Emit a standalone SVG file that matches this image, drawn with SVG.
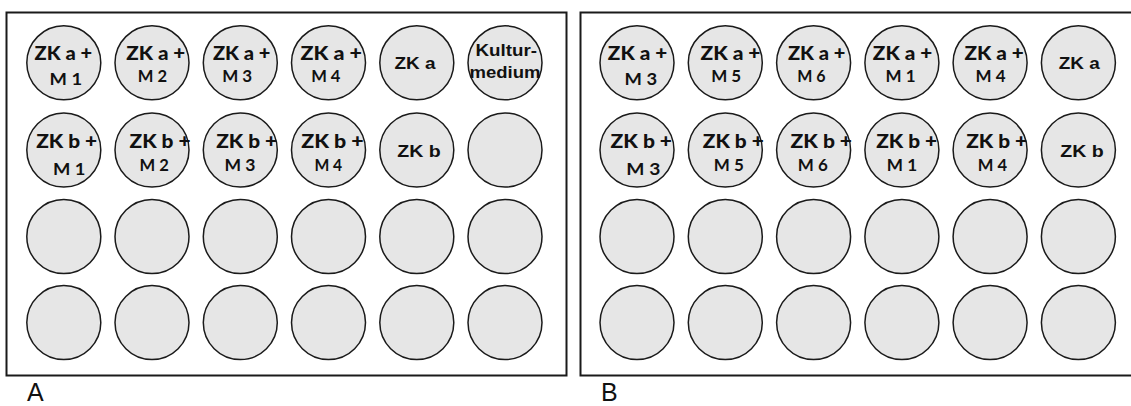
<svg xmlns="http://www.w3.org/2000/svg" width="1131" height="406" viewBox="0 0 1131 406">
<style>
.frame{fill:#ffffff;stroke:#1a1a1a;stroke-width:2}
.well{fill:#e6e6e6;stroke:#1a1a1a;stroke-width:1.5}
.t{font-family:Lato,"Liberation Sans",sans-serif;font-weight:900;font-size:18.5px;fill:#111;text-anchor:middle}
.m{font-family:Lato,"Liberation Sans",sans-serif;font-weight:bold;font-size:17px;fill:#111;text-anchor:middle}
.s{font-family:"Liberation Sans",Arial,sans-serif;font-weight:bold;font-size:17px;fill:#111;text-anchor:middle}
.k{font-family:"Liberation Sans",Arial,sans-serif;font-weight:bold;font-size:16.5px;fill:#111;text-anchor:middle}
.lab{font-family:"Liberation Sans",Arial,sans-serif;font-size:25px;fill:#111}
</style>
<rect id="plateA" class="frame" x="6.5" y="12.5" width="560" height="363"/>
<rect id="plateB" class="frame" x="580.5" y="12.5" width="560" height="363"/>
<text class="lab" x="27" y="401">A</text>
<text class="lab" x="601" y="401">B</text>

<g id="A_r1c1"><circle class="well" cx="63.8" cy="62.8" r="37"/><text class="t" x="63.3" y="60" textLength="57.5" lengthAdjust="spacingAndGlyphs">ZK a +</text><text class="m" x="65.8" y="85" textLength="32.5" lengthAdjust="spacingAndGlyphs">M 1</text></g>
<g id="A_r1c2"><circle class="well" cx="152" cy="62.8" r="37"/><text class="t" x="155.8" y="60" textLength="59" lengthAdjust="spacingAndGlyphs">ZK a +</text><text class="m" x="152.5" y="81.7" textLength="29.3" lengthAdjust="spacingAndGlyphs">M 2</text></g>
<g id="A_r1c3"><circle class="well" cx="240.3" cy="62.8" r="37"/><text class="t" x="241.7" y="60" textLength="57.5" lengthAdjust="spacingAndGlyphs">ZK a +</text><text class="m" x="237.2" y="82.3" textLength="30" lengthAdjust="spacingAndGlyphs">M 3</text></g>
<g id="A_r1c4"><circle class="well" cx="328.5" cy="62.8" r="37"/><text class="t" x="331.2" y="60" textLength="61.5" lengthAdjust="spacingAndGlyphs">ZK a +</text><text class="m" x="325.8" y="82.3" textLength="29.3" lengthAdjust="spacingAndGlyphs">M 4</text></g>
<g id="A_r1c5"><circle class="well" cx="416.8" cy="62.8" r="37"/><text class="s" x="415" y="69.3" textLength="41" lengthAdjust="spacingAndGlyphs">ZK a</text></g>
<g id="A_r1c6"><circle class="well" cx="505" cy="62.8" r="37"/><text class="k" x="506.3" y="56" textLength="61.5" lengthAdjust="spacingAndGlyphs">Kultur-</text><text class="k" x="505" y="78.3" textLength="71" lengthAdjust="spacingAndGlyphs">medium</text></g>

<g id="A_r2c1"><circle class="well" cx="63.8" cy="150" r="37"/><text class="t" x="66.7" y="147.7" textLength="61" lengthAdjust="spacingAndGlyphs">ZK b +</text><text class="m" x="69.2" y="175" textLength="32.5" lengthAdjust="spacingAndGlyphs">M 1</text></g>
<g id="A_r2c2"><circle class="well" cx="152" cy="150" r="37"/><text class="t" x="160" y="147.7" textLength="61" lengthAdjust="spacingAndGlyphs">ZK b +</text><text class="m" x="154.2" y="170.7" textLength="29.3" lengthAdjust="spacingAndGlyphs">M 2</text></g>
<g id="A_r2c3"><circle class="well" cx="240.3" cy="150" r="37"/><text class="t" x="246.7" y="147.7" textLength="61" lengthAdjust="spacingAndGlyphs">ZK b +</text><text class="m" x="240" y="170.7" textLength="31" lengthAdjust="spacingAndGlyphs">M 3</text></g>
<g id="A_r2c4"><circle class="well" cx="328.5" cy="150" r="37"/><text class="t" x="332.5" y="147.7" textLength="62.5" lengthAdjust="spacingAndGlyphs">ZK b +</text><text class="m" x="328.3" y="170.7" textLength="27.7" lengthAdjust="spacingAndGlyphs">M 4</text></g>
<g id="A_r2c5"><circle class="well" cx="416.8" cy="150" r="37"/><text class="s" x="419" y="157" textLength="43.5" lengthAdjust="spacingAndGlyphs">ZK b</text></g>
<g id="A_r2c6"><circle class="well" cx="505" cy="150" r="37"/></g>

<g id="A_r3c1"><circle class="well" cx="63.8" cy="236.5" r="37"/></g>
<g id="A_r3c2"><circle class="well" cx="152" cy="236.5" r="37"/></g>
<g id="A_r3c3"><circle class="well" cx="240.3" cy="236.5" r="37"/></g>
<g id="A_r3c4"><circle class="well" cx="328.5" cy="236.5" r="37"/></g>
<g id="A_r3c5"><circle class="well" cx="416.8" cy="236.5" r="37"/></g>
<g id="A_r3c6"><circle class="well" cx="505" cy="236.5" r="37"/></g>

<g id="A_r4c1"><circle class="well" cx="63.8" cy="322.6" r="37"/></g>
<g id="A_r4c2"><circle class="well" cx="152" cy="322.6" r="37"/></g>
<g id="A_r4c3"><circle class="well" cx="240.3" cy="322.6" r="37"/></g>
<g id="A_r4c4"><circle class="well" cx="328.5" cy="322.6" r="37"/></g>
<g id="A_r4c5"><circle class="well" cx="416.8" cy="322.6" r="37"/></g>
<g id="A_r4c6"><circle class="well" cx="505" cy="322.6" r="37"/></g>

<g id="B_r1c1"><circle class="well" cx="637" cy="62.8" r="37"/><text class="t" x="637.5" y="59.5" textLength="59.3" lengthAdjust="spacingAndGlyphs">ZK a +</text><text class="m" x="640.8" y="85" textLength="32.5" lengthAdjust="spacingAndGlyphs">M 3</text></g>
<g id="B_r1c2"><circle class="well" cx="725.3" cy="62.8" r="37"/><text class="t" x="730.5" y="59.5" textLength="60" lengthAdjust="spacingAndGlyphs">ZK a +</text><text class="m" x="726.2" y="81.7" textLength="30" lengthAdjust="spacingAndGlyphs">M 5</text></g>
<g id="B_r1c3"><circle class="well" cx="813.6" cy="62.8" r="37"/><text class="t" x="816.7" y="59.5" textLength="57.5" lengthAdjust="spacingAndGlyphs">ZK a +</text><text class="m" x="811.3" y="81.7" textLength="28.3" lengthAdjust="spacingAndGlyphs">M 6</text></g>
<g id="B_r1c4"><circle class="well" cx="901.9" cy="62.8" r="37"/><text class="t" x="902.5" y="59.5" textLength="59.3" lengthAdjust="spacingAndGlyphs">ZK a +</text><text class="m" x="900.5" y="81.7" textLength="30" lengthAdjust="spacingAndGlyphs">M 1</text></g>
<g id="B_r1c5"><circle class="well" cx="990.1" cy="62.8" r="37"/><text class="t" x="994.2" y="59.5" textLength="59.3" lengthAdjust="spacingAndGlyphs">ZK a +</text><text class="m" x="990.5" y="81.7" textLength="30" lengthAdjust="spacingAndGlyphs">M 4</text></g>
<g id="B_r1c6"><circle class="well" cx="1078.4" cy="62.8" r="37"/><text class="s" x="1079.3" y="69.3" textLength="41" lengthAdjust="spacingAndGlyphs">ZK a</text></g>

<g id="B_r2c1"><circle class="well" cx="637" cy="150" r="37"/><text class="t" x="641.3" y="147.7" textLength="61.5" lengthAdjust="spacingAndGlyphs">ZK b +</text><text class="m" x="643.3" y="175" textLength="34" lengthAdjust="spacingAndGlyphs">M 3</text></g>
<g id="B_r2c2"><circle class="well" cx="725.3" cy="150" r="37"/><text class="t" x="733.3" y="147.7" textLength="61" lengthAdjust="spacingAndGlyphs">ZK b +</text><text class="m" x="728.8" y="170.7" textLength="30" lengthAdjust="spacingAndGlyphs">M 5</text></g>
<g id="B_r2c3"><circle class="well" cx="813.6" cy="150" r="37"/><text class="t" x="821.3" y="147.7" textLength="61.5" lengthAdjust="spacingAndGlyphs">ZK b +</text><text class="m" x="812.8" y="170.7" textLength="30" lengthAdjust="spacingAndGlyphs">M 6</text></g>
<g id="B_r2c4"><circle class="well" cx="901.9" cy="150" r="37"/><text class="t" x="906.7" y="147.7" textLength="61" lengthAdjust="spacingAndGlyphs">ZK b +</text><text class="m" x="902" y="170.7" textLength="30.3" lengthAdjust="spacingAndGlyphs">M 1</text></g>
<g id="B_r2c5"><circle class="well" cx="990.1" cy="150" r="37"/><text class="t" x="996.7" y="147.7" textLength="61" lengthAdjust="spacingAndGlyphs">ZK b +</text><text class="m" x="992.5" y="170.7" textLength="29.3" lengthAdjust="spacingAndGlyphs">M 4</text></g>
<g id="B_r2c6"><circle class="well" cx="1078.4" cy="150" r="37"/><text class="s" x="1082" y="157" textLength="43.5" lengthAdjust="spacingAndGlyphs">ZK b</text></g>

<g id="B_r3c1"><circle class="well" cx="637" cy="236.5" r="37"/></g>
<g id="B_r3c2"><circle class="well" cx="725.3" cy="236.5" r="37"/></g>
<g id="B_r3c3"><circle class="well" cx="813.6" cy="236.5" r="37"/></g>
<g id="B_r3c4"><circle class="well" cx="901.9" cy="236.5" r="37"/></g>
<g id="B_r3c5"><circle class="well" cx="990.1" cy="236.5" r="37"/></g>
<g id="B_r3c6"><circle class="well" cx="1078.4" cy="236.5" r="37"/></g>

<g id="B_r4c1"><circle class="well" cx="637" cy="322.6" r="37"/></g>
<g id="B_r4c2"><circle class="well" cx="725.3" cy="322.6" r="37"/></g>
<g id="B_r4c3"><circle class="well" cx="813.6" cy="322.6" r="37"/></g>
<g id="B_r4c4"><circle class="well" cx="901.9" cy="322.6" r="37"/></g>
<g id="B_r4c5"><circle class="well" cx="990.1" cy="322.6" r="37"/></g>
<g id="B_r4c6"><circle class="well" cx="1078.4" cy="322.6" r="37"/></g>

<g id="connectors"></g>
</svg>
